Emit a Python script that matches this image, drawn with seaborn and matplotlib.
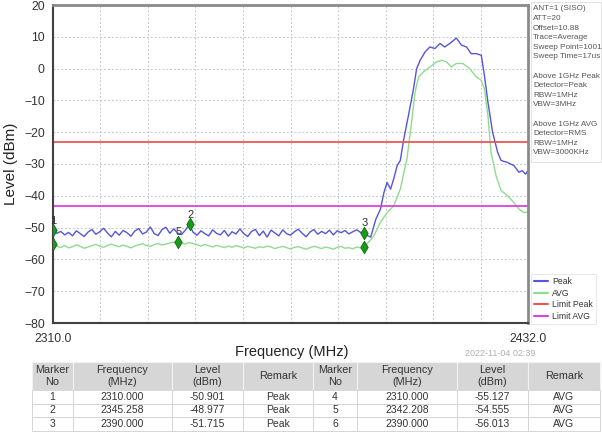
import numpy as np
import pandas as pd
import matplotlib
matplotlib.use("Agg")
import matplotlib.pyplot as plt
from matplotlib.patches import Rectangle
import seaborn as sns

# ---------------- data ----------------
peak_freq = list(range(2310, 2391)) + [2390.6, 2391.6, 2392.9, 2394.1, 2395.0, 2395.8, 2396.7, 2397.5,
    2398.4, 2399.2, 2400.1, 2401.3, 2402.6, 2403.4, 2404.3, 2405.6, 2406.8, 2408.1, 2409.4,
    2410.6, 2411.9, 2413.6, 2414.9, 2416.2, 2417.4, 2418.7, 2420.0, 2420.8, 2421.7, 2422.9,
    2424.2, 2425.1, 2426.7, 2428.4, 2429.7, 2430.5, 2431.4, 2432.0]
peak_level = [-50.9, -51.8, -51.2, -52.3, -51.5, -52.6, -51.0, -51.9, -52.8, -51.4,
    -50.6, -52.1, -51.3, -50.2, -51.7, -52.9, -51.2, -52.4, -50.9, -51.6,
    -52.7, -51.1, -50.3, -52.0, -51.4, -49.8, -51.9, -52.5, -50.6, -49.9,
    -51.8, -50.4, -51.7, -52.2, -50.8, -49.0, -51.5, -52.4, -51.0, -51.9,
    -52.6, -50.7, -51.8, -52.3, -50.9, -52.7, -51.3, -52.0, -50.4, -51.9,
    -52.8, -51.2, -50.6, -52.5, -51.1, -53.0, -50.8, -51.7, -52.6, -50.7,
    -51.9, -52.4, -51.3, -50.5, -51.8, -52.9, -51.4, -50.6, -52.1, -51.2,
    -51.9, -50.8, -52.3, -51.0, -51.6, -50.9, -52.0, -51.3, -50.7, -51.5,
    -51.7,
    -52.4, -53.0, -47.4, -44.2, -39.0, -35.8, -37.9, -34.7,
    -30.5, -28.9, -22.1, -14.7, -6.3, 0.0, 2.6, 5.3, 6.8, 6.3, 7.9,
    6.8, 7.9, 9.6, 7.4, 6.8, 4.7, 4.7, 4.2, -2.1, -10.5, -20.0,
    -26.3, -28.9, -29.5, -30.5, -32.6, -32.1, -33.2, -32.0]

avg_freq = list(range(2310, 2391)) + [2391.5, 2392.4, 2394.1, 2395.8, 2397.5, 2399.2, 2400.9,
    2402.2, 2403.0, 2403.9, 2405.1, 2406.8, 2408.5, 2409.8, 2411.1, 2412.3, 2413.6, 2415.3,
    2417.0, 2418.7, 2420.0, 2420.8, 2421.7, 2422.5, 2423.8, 2425.1, 2426.3, 2428.0, 2429.7,
    2431.0, 2432.0]
avg_level = [-55.1, -55.8, -56.3, -55.6, -56.4, -56.0, -55.4, -55.9, -56.5, -56.1,
    -55.7, -55.3, -55.8, -56.2, -55.6, -55.2, -55.7, -56.0, -55.5, -55.9,
    -56.4, -55.8, -55.4, -55.1, -55.6, -55.9, -55.3, -55.0, -55.5, -55.2,
    -54.8, -54.6, -54.5, -54.9, -55.2, -54.7, -55.0, -55.4, -55.8, -55.3,
    -55.7, -56.1, -55.6, -55.9, -56.3, -55.8, -56.2, -55.7, -56.0, -56.4,
    -55.9, -56.2, -56.5, -56.0, -56.3, -55.8, -56.1, -56.6, -56.2, -55.9,
    -56.3, -56.7, -56.2, -56.0, -56.4, -56.8, -56.3, -55.9, -56.2, -56.6,
    -56.1, -56.4, -56.8, -56.2, -55.9, -56.5, -56.3, -56.7, -56.1, -56.4,
    -56.0,
    -54.0, -52.6, -48.4, -45.3, -43.2, -37.9, -28.4,
    -15.8, -7.4, -2.6, -1.1, 0.5, 2.1, 2.6, 2.1, 0.5, 1.6, 1.6,
    0.0, -2.6, -3.7, -6.3, -14.7, -26.3, -33.7, -38.4, -39.5, -41.6, -44.2,
    -45.3, -45.0]

limit_peak = -23.2
limit_avg = -43.2

marker_no = ["1", "2", "3", "4", "5", "6"]
marker_freq = [2310.000, 2345.258, 2390.000, 2310.000, 2342.208, 2390.000]
marker_level = [-50.901, -48.977, -51.715, -55.127, -54.555, -56.013]
marker_remark = ["Peak", "Peak", "Peak", "AVG", "AVG", "AVG"]
marker_shown_labels = ["1", "2", "3", "5"]

info_lines = ["ANT=1 (SISO)", "ATT=20", "Offset=10.88", "Trace=Average",
              "Sweep Point=1001", "Sweep Time=17us", "",
              "Above 1GHz Peak", "Detector=Peak", "RBW=1MHz", "VBW=3MHz", "",
              "Above 1GHz AVG", "Detector=RMS", "RBW=1MHz", "VBW=3000KHz"]

x_tick_labels = ["2310.0", "2432.0"]
table_header = ["Marker\nNo", "Frequency\n(MHz)", "Level\n(dBm)", "Remark",
                "Marker\nNo", "Frequency\n(MHz)", "Level\n(dBm)", "Remark"]

# ---------------- style ----------------
sns.set_theme(style="white")
plt.rcParams["font.family"] = ["Liberation Sans", "DejaVu Sans"]

W, H = 602, 434
fig = plt.figure(figsize=(W / 100, H / 100), dpi=100)

def px_axes(l, t, r, b):
    return [l / W, 1 - b / H, (r - l) / W, (b - t) / H]

ax = fig.add_axes(px_axes(53, 5, 528, 323))

c_peak = "#5555dd"
c_avg = "#8fdc8f"
c_lpeak = "#f05555"
c_lavg = "#e040e0"

df_p = pd.DataFrame({"f": peak_freq, "lvl": peak_level})
df_a = pd.DataFrame({"f": avg_freq, "lvl": avg_level})

sns.lineplot(data=df_p, x="f", y="lvl", ax=ax, color=c_peak, lw=1.0, label="Peak")
sns.lineplot(data=df_a, x="f", y="lvl", ax=ax, color=c_avg, lw=1.0, label="AVG")
ax.axhline(limit_peak, color=c_lpeak, lw=1.3, label="Limit Peak")
ax.axhline(limit_avg, color=c_lavg, lw=1.3, label="Limit AVG")

df_m = pd.DataFrame({"f": marker_freq, "lvl": marker_level})
sns.scatterplot(data=df_m, x="f", y="lvl", ax=ax, marker="d", s=40,
                color="#1a9a1a", edgecolor="#0b6b0b", linewidth=0.6, zorder=5, legend=False,
                clip_on=True)
for no, f, l in zip(marker_no, marker_freq, marker_level):
    if no in marker_shown_labels:
        ax.text(f, l + 1.5, no, ha="center", va="bottom", fontsize=8, color="#333333", zorder=6)

ax.set_xlim(2310, 2432)
ax.set_ylim(-80, 20)
xt = np.linspace(2310, 2432, 11)
ax.set_xticks(xt)
ax.set_xticklabels([x_tick_labels[0]] + [""] * 9 + [x_tick_labels[1]], fontsize=8.5, color="#333333")
ax.set_yticks(np.arange(-80, 21, 10))
ax.tick_params(axis="y", labelsize=8.8, colors="#333333", direction="out", length=4, width=1, pad=2)
ax.tick_params(axis="x", labelsize=8.8, colors="#333333", direction="out", length=4, width=1, pad=3)
ax.grid(True, color="#c8c8c8", lw=0.7, ls=(0, (2, 2)))
for side in ["left", "bottom"]:
    ax.spines[side].set_color("#404040")
    ax.spines[side].set_linewidth(1.5)
for side in ["top", "right"]:
    ax.spines[side].set_color("#8a8a8a")
    ax.spines[side].set_linewidth(2.0)
ax.set_xlabel("")
ax.set_ylabel("Level (dBm)", fontsize=11, color="#222222", labelpad=4)
fig.text(292 / W, 1 - 352 / H, "Frequency (MHz)", fontsize=10.5, color="#222222",
         ha="center", va="center")

leg = ax.legend(loc="upper left", bbox_to_anchor=(531 / W, 1 - 274 / H),
                bbox_transform=fig.transFigure,
                fontsize=6.2, frameon=True, fancybox=False, handlelength=1.6,
                borderpad=0.35, labelspacing=0.3, handletextpad=0.5, borderaxespad=0)
leg.get_frame().set_edgecolor("#dddddd")
leg.get_frame().set_linewidth(0.6)
for t in leg.get_texts():
    t.set_color("#333333")
for h in leg.get_lines():
    h.set_linewidth(1.5)

# info box
fig.patches.append(Rectangle((531 / W, 1 - 162 / H), 70 / W, 160 / H, transform=fig.transFigure,
                             facecolor="white", edgecolor="#dddddd", lw=0.6))
for i, line in enumerate(info_lines):
    fig.text(533 / W, 1 - (9 + i * 9.6) / H, line, fontsize=5.85, color="#555555", va="center", ha="left")

fig.text(500 / W, 1 - 353 / H, "2022-11-04 02:39", fontsize=6.5, color="#b0b0b0", ha="center", va="center")

# table
col_edges = [32, 73, 172, 243, 313, 357, 457, 528, 600]
row_edges = [362, 390, 403.5, 417, 430.5]
tax = fig.add_axes([0, 0, 1, 1])
tax.set_xlim(0, W)
tax.set_ylim(H, 0)
tax.axis("off")
for j in range(8):
    x0, x1 = col_edges[j], col_edges[j + 1]
    tax.add_patch(Rectangle((x0, row_edges[0]), x1 - x0, row_edges[1] - row_edges[0],
                            facecolor="#d6d6d6", edgecolor="#f2f2f2", lw=0.8))
    tax.text((x0 + x1) / 2, (row_edges[0] + row_edges[1]) / 2, table_header[j],
             ha="center", va="center", fontsize=7.8, color="#333333", linespacing=1.15)
for r in range(3):
    left = [marker_no[r], f"{marker_freq[r]:.3f}", f"{marker_level[r]:.3f}", marker_remark[r]]
    right = [marker_no[r + 3], f"{marker_freq[r + 3]:.3f}", f"{marker_level[r + 3]:.3f}", marker_remark[r + 3]]
    vals = left + right
    y0, y1 = row_edges[r + 1], row_edges[r + 2]
    for j in range(8):
        x0, x1 = col_edges[j], col_edges[j + 1]
        tax.add_patch(Rectangle((x0, y0), x1 - x0, y1 - y0, facecolor="white",
                                edgecolor="#d0d0d0", lw=0.6))
        tax.text((x0 + x1) / 2, (y0 + y1) / 2, vals[j], ha="center", va="center",
                 fontsize=7.5, color="#333333")

fig.savefig("out.png", dpi=100)
